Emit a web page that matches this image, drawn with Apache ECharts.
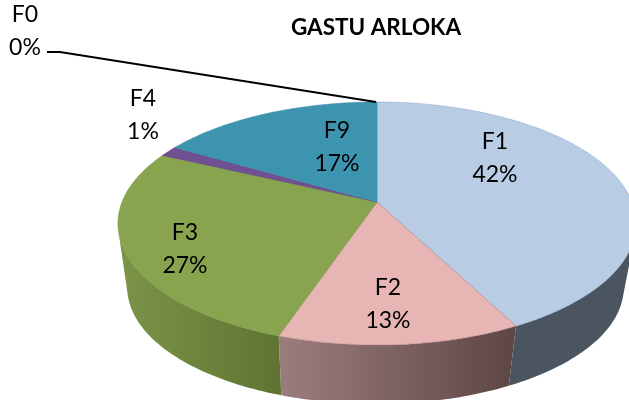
<!DOCTYPE html>
<html>
<head>
<meta charset="utf-8">
<style>html,body{margin:0;padding:0;background:#fff}#c{width:629px;height:400px}</style>
<script src="https://cdn.jsdelivr.net/npm/echarts@6/dist/echarts.min.js"></script>
</head>
<body>
<div id="c"></div>
<script>
// Data
const categories = ['F0', 'F1', 'F2', 'F3', 'F4', 'F9'];
const percents = [0, 42.4, 12.8, 26.8, 1.4, 16.6];
const chartTitle = 'GASTU ARLOKA';

// Styles and layout
const topColors = ['#b8cce4', '#b8cce4', '#e6b5b4', '#89a44f', '#6f5090', '#3d94ae'];
const edgeColors = ['#8aa5c8', '#8aa5c8', '#b07a7a', '#7a9544', '#5f4480', '#3a8ba4'];
const sideFrom = ['#4b5560', '#4b5560', '#9c7d7e', '#7b9447', '#5a4570', '#2f6f82'];
const sideTo = ['#4b5560', '#4b5560', '#5d4644', '#5f7433', '#5a4570', '#2f6f82'];
const labelAnchors = [[25, 31], [495, 158], [388, 304], [185, 249], [143, 115], [337, 147]];
const labelColor = '#000';

const chart = echarts.init(document.getElementById('c'));
const total = percents.reduce((a, b) => a + b, 0);
const A = 255, B = 117.7, K = 0.177, CX = 377, CY = 202;
const shiftScale = 0.958, shiftX = 375.5, shiftY = 267;

function project(t) { // t: fraction of the full turn, clockwise from the top
  const a = t * 2 * Math.PI, u = Math.sin(a), v = -Math.cos(a), d = 1 - K * v;
  return [CX + A * u / d, CY + B * v / d];
}
function lower(p) {
  return [shiftX + shiftScale * (p[0] - CX), shiftY + shiftScale * (p[1] - CY)];
}
function arc(t0, t1) {
  const n = Math.max(2, Math.ceil((t1 - t0) * 360)), pts = [];
  for (let i = 0; i <= n; i++) pts.push(project(t0 + (t1 - t0) * i / n));
  return pts;
}
function faces(p, q) { // true when the wall between arc points p and q faces the viewer
  const b = lower(p);
  return (q[0] - p[0]) * (b[1] - p[1]) - (q[1] - p[1]) * (b[0] - p[0]) < 0;
}

function renderSlice(params, api) {
  const i = params.dataIndex;
  let sum = 0;
  for (let j = 0; j < i; j++) sum += percents[j];
  const t0 = sum / total, t1 = (sum + api.value(1)) / total;
  const children = [];
  if (t1 > t0) {
    const edge = arc(t0, t1);
    const front = [];
    for (let k = 0; k < edge.length - 1; k++) {
      if (faces(edge[k], edge[k + 1])) {
        if (!front.length) front.push(edge[k]);
        front.push(edge[k + 1]);
      }
    }
    if (front.length > 1) {
      const xs = front.map(p => p[0]);
      const grad = new echarts.graphic.LinearGradient(
        Math.min.apply(null, xs), 0, Math.max.apply(null, xs), 0,
        [{ offset: 0, color: sideFrom[i] }, { offset: 1, color: sideTo[i] }], true);
      children.push({
        type: 'polygon', z2: 1,
        shape: { points: front.concat(front.map(lower).reverse()) },
        style: { fill: grad }
      });
    }
    children.push({
      type: 'polygon', z2: 10,
      shape: { points: [[CX, CY]].concat(edge) },
      style: { fill: topColors[i], stroke: edgeColors[i], lineWidth: 0.5 }
    });
  }
  return { type: 'group', children };
}

function renderLabel(params, api) {
  const i = params.dataIndex;
  return {
    type: 'text', z2: 30,
    style: {
      x: labelAnchors[i][0], y: labelAnchors[i][1],
      text: categories[i] + '\n' + Math.round(api.value(1)) + '%',
      font: '23px Lato', lineHeight: 33,
      fill: labelColor, align: 'center', verticalAlign: 'middle'
    }
  };
}

const rows = categories.map((c, i) => [c, percents[i]]);
chart.setOption({
  animation: false,
  backgroundColor: '#fff',
  title: {
    text: chartTitle, left: 371, top: 11, textAlign: 'center',
    textStyle: { fontFamily: 'Lato', fontWeight: 'bold', fontSize: 22.5, color: '#000' }
  },
  graphic: [{
    type: 'polyline', z: 20,
    shape: { points: [[47, 52], [60, 52], [376, 102]] },
    style: { stroke: '#000', lineWidth: 1.8, fill: 'none' }
  }],
  series: [
    { type: 'custom', coordinateSystem: 'none', data: rows, renderItem: renderSlice, z: 2, silent: true },
    { type: 'custom', coordinateSystem: 'none', data: rows, renderItem: renderLabel, z: 5, silent: true }
  ]
});
</script>
</body>
</html>
